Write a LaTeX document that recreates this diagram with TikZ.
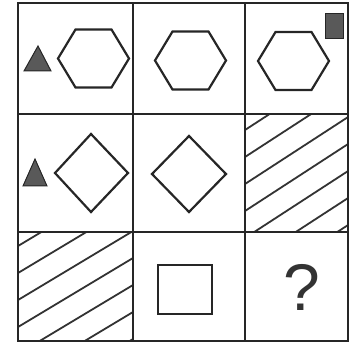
\documentclass[tikz,border=0pt]{standalone}
\usepackage{fontspec}
\setmainfont{Liberation Sans}
\tikzset{
  gridline/.style={line width=2.4pt, black!85},
  shapeline/.style={line width=2.2pt, black!85, line join=miter},
  hatchline/.style={line width=1.8pt, black!80},
  darkmark/.style={fill=black!65, draw=black!85, line width=1pt},
}
\begin{document}
\begin{tikzpicture}[x=1pt,y=-1pt]
\useasboundingbox (0,0) rectangle (350,347);
% hatching cell (2,3)
\begin{scope}
\clip (245,114) rectangle (348,232);
\foreach \k in {0,...,8}{
  \pgfmathsetmacro{\b}{130+27*\k}
  \draw[hatchline] (245,\b) -- (350,\b-0.65*105);
}
\end{scope}
% hatching cell (3,1)
\begin{scope}
\clip (18,232) rectangle (133,341);
\foreach \k in {0,...,7}{
  \pgfmathsetmacro{\b}{246+27*\k}
  \draw[hatchline] (18,\b) -- (133,\b-0.6*115);
}
\end{scope}
% grid
\draw[gridline] (18,3) rectangle (348,341);
\draw[gridline] (133,3) -- (133,341);
\draw[gridline] (245,3) -- (245,341);
\draw[gridline] (18,114) -- (348,114);
\draw[gridline] (18,232) -- (348,232);
% row 1 hexagons
\foreach \cx/\cy in {93.5/58.5, 190.5/60.5, 293.5/61}{
  \draw[shapeline] (\cx-35.5,\cy) -- (\cx-18,\cy-29) -- (\cx+18,\cy-29) -- (\cx+35.5,\cy) -- (\cx+18,\cy+29) -- (\cx-18,\cy+29) -- cycle;
}
% small marks row 1
\draw[darkmark] (38,46) -- (51,71) -- (24,71) -- cycle;
\draw[darkmark] (325,14) rectangle (343,39);
% row 2 diamonds
\draw[shapeline] (91,134) -- (128,173) -- (91,212) -- (55,173) -- cycle;
\draw[shapeline] (189,136) -- (226,174) -- (189,212) -- (152,174) -- cycle;
\draw[darkmark] (35,159) -- (47,186) -- (23,186) -- cycle;
% row 3 square
\draw[shapeline] (158,265) rectangle (212,314);
% question mark
\node[font=\fontsize{66}{66}\selectfont, text=black!80, inner sep=0pt] (q) at (302,287) {?};
\end{tikzpicture}
\end{document}
